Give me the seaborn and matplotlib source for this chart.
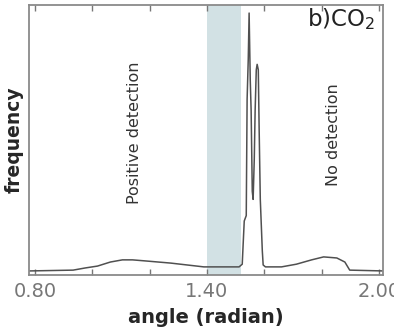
import matplotlib
matplotlib.use("Agg")
import matplotlib.pyplot as plt
import seaborn as sns
import pandas as pd
from matplotlib.ticker import FixedLocator

sns.set_style("white")
plt.rcParams['font.family'] = ['DejaVu Sans']

angle = [0.78, 0.933, 0.975, 1.018, 1.063, 1.105, 1.140, 1.186, 1.274, 1.389,
         1.449, 1.512, 1.523, 1.526, 1.530, 1.537, 1.540, 1.544, 1.547, 1.551,
         1.554, 1.558, 1.561, 1.565, 1.568, 1.572, 1.575, 1.579, 1.582, 1.586,
         1.593, 1.596, 1.604, 1.660, 1.712, 1.765, 1.807, 1.853, 1.881, 1.898, 2.014]
frequency = [0.015, 0.018, 0.026, 0.033, 0.048, 0.056, 0.056, 0.052, 0.044, 0.030,
             0.030, 0.030, 0.040, 0.110, 0.200, 0.220, 0.650, 0.800, 0.970, 0.720,
             0.610, 0.310, 0.280, 0.430, 0.610, 0.760, 0.780, 0.760, 0.540, 0.280,
             0.090, 0.037, 0.030, 0.030, 0.040, 0.056, 0.067, 0.063, 0.048, 0.018, 0.015]
band = [1.40, 1.52]
major_ticks = [0.80, 1.40, 2.00]
tick_labels = ["0.80", "1.40", "2.00"]
minor_ticks = [1.0, 1.2, 1.6, 1.8]

df = pd.DataFrame({"angle": angle, "frequency": frequency})

fig = plt.figure(figsize=(3.94, 3.30), dpi=100)
ax = fig.add_axes([0.0736, 0.1667, 0.8984, 0.8183])

ax.axvspan(band[0], band[1], color="#d2e1e4", zorder=0, lw=0)
sns.lineplot(data=df, x="angle", y="frequency", ax=ax, color="#505050", lw=1.1,
             sort=False, estimator=None)

ax.set_xlim(0.779, 2.014)
ax.set_ylim(0, 1)
ax.set_yticks([])
ax.xaxis.set_major_locator(FixedLocator(major_ticks))
ax.set_xticklabels(tick_labels, fontsize=14, color="#777777")
ax.xaxis.set_minor_locator(FixedLocator(minor_ticks))
ax.tick_params(axis="x", which="both", direction="in", top=True, bottom=True,
               length=4, width=1, color="#777777", pad=5)

for s in ax.spines.values():
    s.set_color("#8a8a8a")
    s.set_linewidth(1.3)

ax.set_xlabel("angle (radian)", fontsize=14, fontweight="bold", labelpad=5)
ax.set_ylabel("frequency", fontsize=13.5, fontweight="bold", labelpad=4)

ax.text(1.148, 0.525, "Positive detection", rotation=90, ha="center", va="center",
        fontsize=11.5, color="#333333")
ax.text(1.842, 0.52, "No detection", rotation=90, ha="center", va="center",
        fontsize=11.5, color="#333333")
ax.text(1.988, 0.995, "b)CO$_\\mathregular{2}$", ha="right", va="top",
        fontsize=16.5, color="#222222")

fig.savefig("out.png", dpi=100)
